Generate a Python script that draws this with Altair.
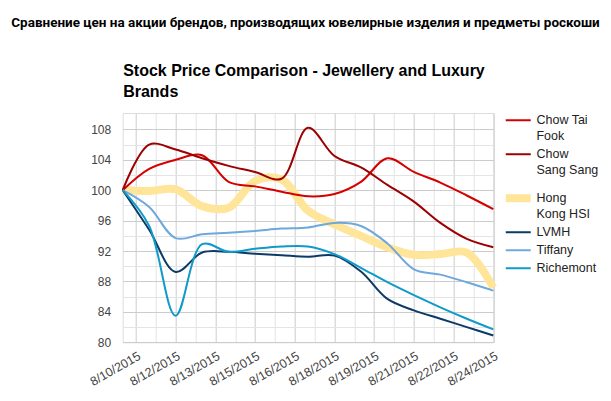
import altair as alt
import pandas as pd

# ---- data ----
dates = [
    "2015-08-10T00:00:00", "2015-08-11T00:00:00", "2015-08-12T00:00:00",
    "2015-08-13T00:00:00", "2015-08-14T00:00:00", "2015-08-15T00:00:00",
    "2015-08-16T00:00:00", "2015-08-17T00:00:00", "2015-08-18T00:00:00",
    "2015-08-19T00:00:00", "2015-08-20T00:00:00", "2015-08-21T00:00:00",
    "2015-08-22T00:00:00", "2015-08-23T00:00:00", "2015-08-24T00:00:00",
]
chow_tai_fook = [100, 102.8, 104.0, 104.6, 101.1, 100.5, 99.8, 99.2, 99.5, 101.1, 104.2, 102.4, 101.0, 99.3, 97.5]
chow_sang_sang = [100, 106.0, 105.35, 104.2, 103.2, 102.4, 101.5, 108.2, 104.5, 103.0, 100.7, 98.5, 95.7, 93.6, 92.5]
hong_kong_hsi = [100, 99.9, 100.1, 97.9, 97.7, 101.2, 101.4, 97.3, 95.5, 94.0, 92.5, 91.5, 91.6, 91.8, 87.2]
lvmh = [100, 94.8, 89.25, 91.8, 91.9, 91.65, 91.45, 91.25, 91.4, 89.3, 85.7, 84.2, 83.1, 82.0, 80.9]
tiffany = [100, 97.8, 93.7, 94.2, 94.4, 94.65, 94.95, 95.1, 95.7, 95.3, 93.0, 89.6, 88.9, 87.9, 86.8]
richemont = [100, 95.3, 83.5, 92.9, 91.9, 92.3, 92.6, 92.6, 91.6, 89.8, 87.9, 86.2, 84.6, 83.1, 81.7]

series_names = ["Chow Tai Fook", "Chow Sang Sang", "Hong Kong HSI", "LVMH", "Tiffany", "Richemont"]
series_values = [chow_tai_fook, chow_sang_sang, hong_kong_hsi, lvmh, tiffany, richemont]
series_colors = ["#d40000", "#9c0000", "#ffe599", "#0b3a66", "#6fa8dc", "#0f9bc9"]
series_widths = [2, 2, 8, 2, 2, 2]

y_ticks = [80, 82, 84, 86, 88, 90, 92, 94, 96, 98, 100, 102, 104, 106, 108]
main_title = "Сравнение цен на акции брендов, производящих ювелирные изделия и предметы роскоши"
chart_title = ["Stock Price Comparison - Jewellery and Luxury", "Brands"]

rows = []
for name, vals in zip(series_names, series_values):
    for d, v in zip(dates, vals):
        rows.append({"date": d, "value": v, "series": name})
df = pd.DataFrame(rows)

# x grid every 18 hours starting 8/10 12:00 (labels every 36 hours)
x_vals = []
for k in range(19):
    h = 12 + 18 * k
    x_vals.append(alt.DateTime(year=2015, month=8, date=10 + h // 24, hours=h % 24))

FONT = "Liberation Sans"

x_axis = alt.Axis(
    values=x_vals,
    labelExpr="hours(datum.value) % 12 == 0 ? timeFormat(datum.value, '%-m/%-d/%Y') : ''",
    gridColor={"condition": {"test": "hours(datum.value) % 12 == 0", "value": "#cccccc"}, "value": "#e4e4e4"},
    ticks=False, domain=False, labelAngle=-30, labelAlign="right", labelBaseline="top",
    labelPadding=7, labelFontSize=12.5, labelColor="#444444", labelFont=FONT,
    labelOverlap=False, title=None,
)
y_axis = alt.Axis(
    values=y_ticks,
    labelExpr="datum.value % 4 == 0 ? datum.label : ''",
    gridColor={"condition": {"test": "datum.value % 4 == 0", "value": "#cccccc"}, "value": "#e4e4e4"},
    ticks=False, domain=False, labelPadding=12, labelFontSize=12, labelColor="#444444",
    labelFont=FONT, title=chart_title, titleAngle=0, titleAlign="left",
    titleBaseline="alphabetic", titleX=0, titleY=-37, titleFontSize=16, titleFont=FONT,
    titleFontWeight="bold", titleColor="#000000", titleLineHeight=21,
)
legend = alt.Legend(
    title=None, orient="none", legendX=389.3, legendY=5, padding=0,
    symbolType="M-6.25,-2L6.25,-2", symbolSize=16,
    labelExpr="datum.label == 'Chow Tai Fook' ? ['Chow Tai', 'Fook'] : datum.label == 'Chow Sang Sang' ? ['Chow', 'Sang Sang'] : datum.label == 'Hong Kong HSI' ? ['Hong', 'Kong HSI'] : datum.label",
    labelFontSize=12.5, labelFont=FONT, labelColor="#222222", labelBaseline="alphabetic",
    labelOffset=12, rowPadding=5, labelLimit=200,
)

base = alt.Chart(df).encode(
    x=alt.X("date:T", axis=x_axis,
            scale=alt.Scale(domain=[alt.DateTime(year=2015, month=8, date=10),
                                    alt.DateTime(year=2015, month=8, date=24)], nice=False)),
    y=alt.Y("value:Q", axis=y_axis, scale=alt.Scale(domain=[80, 110.15], nice=False, zero=False)),
    color=alt.Color("series:N", scale=alt.Scale(domain=series_names, range=series_colors), legend=legend),
    strokeWidth=alt.StrokeWidth("series:N", scale=alt.Scale(type="ordinal", domain=series_names, range=series_widths), legend=legend),
)

hsi_layer = base.transform_filter("datum.series == 'Hong Kong HSI'").mark_line(interpolate="catmull-rom", strokeJoin="round")
other_layer = base.transform_filter("datum.series != 'Hong Kong HSI'").mark_line(interpolate="catmull-rom", strokeJoin="round")

chart = alt.layer(hsi_layer, other_layer).properties(
    width=370.6, height=229.3,
    autosize=alt.AutoSizeParams(type="none"),
    padding={"left": 114.7, "top": 105, "right": 109, "bottom": 50},
    title=alt.Title(main_title, anchor="middle", frame="group", font="Roboto", fontSize=13.5,
                    fontWeight="bold", color="#000000", offset=22.5, baseline="alphabetic", dx=-2.5),
).configure_view(stroke=None).configure(
    background="white", style={"guide-label": {"lineHeight": 16}}
)

chart.save("out.html", embed_options={"renderer": "svg", "actions": False})
